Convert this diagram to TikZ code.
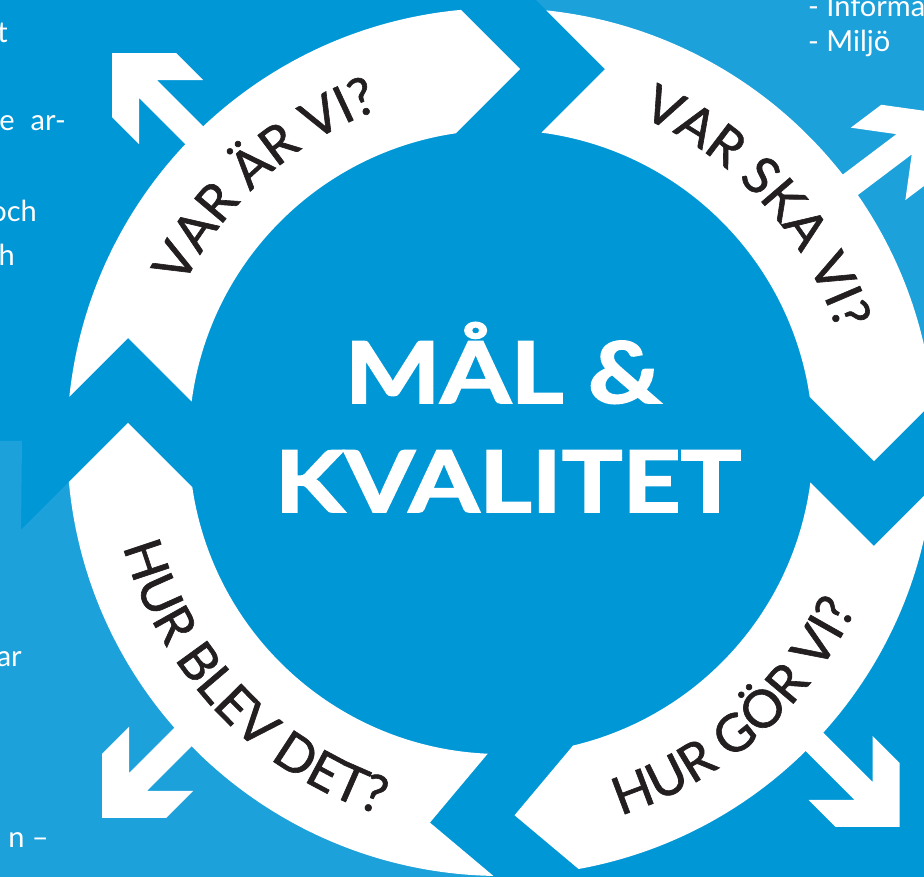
\documentclass[tikz,border=0pt]{standalone}
\usepackage{fontspec}
\setmainfont{Lato}
\newfontfamily\ringfont[FakeBold=1.2]{Lato}
\newfontfamily\titlefont[FakeBold=2]{Lato Bold}
\usetikzlibrary{decorations.text}
\definecolor{dkblue}{RGB}{0,151,214}
\definecolor{ltblue}{RGB}{29,161,219}
\definecolor{ink}{RGB}{35,31,32}
\newcommand\ringarrow[2]{%
  \fill[white] ({84+#1}:434) -- ({74.42+#1}:387.2) -- ({82.56+#1}:312)
    arc[start angle={82.56+#1}, end angle={98.35+#2}, radius=312]
    -- ({87.08+#2}:373.5) -- ({95.30+#2}:434)
    arc[start angle={95.30+#2}, end angle={84+#1}, radius=434] -- cycle;}
\newcommand\outarrow[3]{%
  \begin{scope}[shift={(#1:#2)}, rotate=#3]
    \fill[white] (0,0) -- (-45.3,45.3) -- (-83.4,45.3) -- (-50.9,12.7) -- (-175,12.7)
      -- (-175,-12.7) -- (-50.9,-12.7) -- (-83.4,-45.3) -- (-45.3,-45.3) -- cycle;
  \end{scope}}
\tikzset{
  ringtext/.style={decorate, decoration={text along path, text align=center,
     text color=ink, text={|\ringfont\fontsize{52}{60}\selectfont|#1}}},
  cornertext/.style={text=white, font=\fontsize{29}{33}\selectfont, inner sep=0pt},
  titletext/.style={text=white, font=\titlefont\fontsize{85}{100}\selectfont, inner sep=0pt, xscale=1.19}
}
\begin{document}
\begin{tikzpicture}[x=1pt,y=1pt]
\useasboundingbox (-501,-435) rectangle (423,442);
\clip (-501,-435) rectangle (423,442);
% backgrounds
\fill[dkblue] (-501,-435) rectangle (423,442);
\fill[ltblue] (35,442) -- (423,442) -- (423,0) -- (104,373) -- cycle;
\fill[ltblue] (-501,1) -- (-479,1) -- (-480,-88) -- (-373,19) -- (0,0) -- (-11,-440) -- (-501,-440) -- cycle;
\fill[dkblue] (0,0) circle[radius=434];
% outward arrows
\outarrow{135}{550}{135}
\outarrow{36.5}{552}{37}
\outarrow{-44}{554}{-45}
\outarrow{-136.7}{548}{-135}
% ring arrows
\ringarrow{90}{0}
\ringarrow{0}{-90}
\ringarrow{-90}{-175}
\ringarrow{-175}{-270}
% ring texts
\path[ringtext={VAR ÄR VI?}] (192:354) arc[start angle=192, end angle=72, radius=354];
\path[ringtext={VAR SKA VI?}] (102.5:354) arc[start angle=102.5, end angle=-17.5, radius=354];
\path[ringtext={HUR GÖR VI?}] (-108.7:392) arc[start angle=-108.7, end angle=11.3, radius=392];
\path[ringtext={HUR BLEV DET?}] (-196.3:392) arc[start angle=-196.3, end angle=-76.3, radius=392];
% centre
\node[titletext, anchor=base] (title1) at (2,39) {MÅL \&};
\node[titletext, anchor=base] (title2) at (7,-70) {KVALITET};
% corner texts
\node[cornertext, anchor=base east] (c1) at (-493,399) {t};
\node[cornertext, anchor=base east] (c2a) at (-486,311) {e};
\node[cornertext, anchor=base east] (c2) at (-435,311) {ar-};
\node[cornertext, anchor=base east] (c3) at (-464,220) {och};
\node[cornertext, anchor=base east] (c4) at (-486,176) {h};
\node[cornertext, anchor=base west] (c5) at (307,425) {- Informa};
\node[cornertext, anchor=base west] (c6) at (307,390) {- Miljö};
\node[cornertext, anchor=base east] (c7) at (-479,-225) {ar};
\node[cornertext, anchor=base east] (c8) at (-452,-406) {n –};
\end{tikzpicture}
\end{document}
